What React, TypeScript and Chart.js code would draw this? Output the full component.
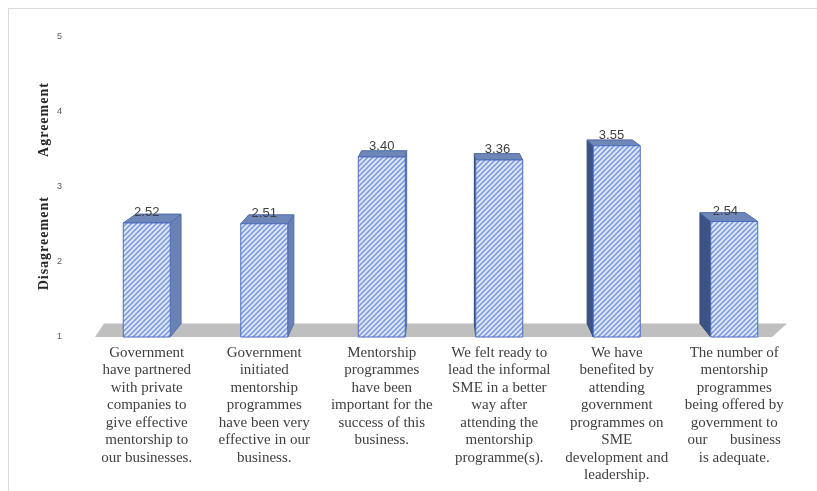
import { useEffect, useRef } from 'react';
import { Chart, registerables } from 'chart.js';

Chart.register(...registerables);

// Survey statements (one array of lines per column)
const CATEGORIES: string[][] = [
  ['Government', 'have partnered', 'with private', 'companies to', 'give effective', 'mentorship to', 'our businesses.'],
  ['Government', 'initiated', 'mentorship', 'programmes', 'have been very', 'effective in our', 'business.'],
  ['Mentorship', 'programmes', 'have been', 'important for the', 'success of this', 'business.'],
  ['We felt ready to', 'lead the informal', 'SME in a better', 'way after', 'attending the', 'mentorship', 'programme(s).'],
  ['We have', 'benefited by', 'attending', 'government', 'programmes on', 'SME', 'development and', 'leadership.'],
  ['The number of', 'mentorship', 'programmes', 'being offered by', 'government to', 'our      business', 'is adequate.'],
];

// Mean agreement scores
const VALUES: number[] = [2.52, 2.51, 3.4, 3.36, 3.55, 2.54];

// Likert scale range
const Y_MIN = 1;
const Y_MAX = 5;
const Y_STEP = 1;

// Side captions along the value axis, centred on a scale value
const AXIS_NOTES = [
  { text: 'Agreement', at: 3.9 },
  { text: 'Disagreement', at: 2.25 },
];

// perspective: vanishing point just above the plot, depth factor
const DEPTH = 0.04;

function makeHatch(ctx: CanvasRenderingContext2D): CanvasPattern | string {
  const s = 5;
  const c = document.createElement('canvas');
  c.width = s;
  c.height = s;
  const g = c.getContext('2d');
  if (!g) return '#a9bde8';
  g.fillStyle = '#dce5f8';
  g.fillRect(0, 0, s, s);
  g.strokeStyle = '#7896db';
  g.lineWidth = 1.5;
  g.beginPath();
  g.moveTo(-1, s + 1);
  g.lineTo(s + 1, -1);
  g.moveTo(-1, 1);
  g.lineTo(1, -1);
  g.moveTo(s - 1, s + 1);
  g.lineTo(s + 1, s - 1);
  g.stroke();
  return ctx.createPattern(c, 'repeat') || '#a9bde8';
}

const bars3d = {
  id: 'bars3d',
  beforeDraw(chart: any) {
    const { ctx, width, height } = chart;
    ctx.save();
    ctx.fillStyle = '#ffffff';
    ctx.fillRect(0, 0, width, height);
    ctx.strokeStyle = '#d9d9d9';
    ctx.lineWidth = 1;
    ctx.beginPath();
    ctx.moveTo(8, 8.5);
    ctx.lineTo(width, 8.5);
    ctx.moveTo(8.5, 8);
    ctx.lineTo(8.5, height);
    ctx.stroke();
    ctx.restore();
  },
  beforeDatasetsDraw(chart: any) {
    const { ctx, chartArea } = chart;
    const { left, right, bottom } = chartArea;
    const vpY = chartArea.top - 37;
    const back = bottom - (bottom - vpY) * DEPTH;
    ctx.save();
    ctx.fillStyle = '#bfbfbf';
    ctx.beginPath();
    ctx.moveTo(left + 7, bottom);
    ctx.lineTo(right - 21, bottom);
    ctx.lineTo(right - 6, back);
    ctx.lineTo(left + 16, back);
    ctx.closePath();
    ctx.fill();
    ctx.restore();
  },
  afterDatasetsDraw(chart: any) {
    const { ctx, chartArea } = chart;
    const yScale = chart.scales.y;
    const vpX = (chartArea.left + chartArea.right) / 2;
    const vpY = chartArea.top - 37;
    const P = (x: number, y: number) => [x + (vpX - x) * DEPTH, y + (vpY - y) * DEPTH];
    const hatch = makeHatch(ctx);
    const meta = chart.getDatasetMeta(0);
    const floorY = yScale.getPixelForValue(Y_MIN);
    ctx.save();
    meta.data.forEach((el: any, i: number) => {
      const { x, y, width } = el.getProps(['x', 'y', 'width'], true);
      const base = floorY;
      const x0 = x - width / 2;
      const x1 = x + width / 2;
      const poly = (pts: number[][], fill: string | CanvasPattern, stroke: string) => {
        ctx.beginPath();
        ctx.moveTo(pts[0][0], pts[0][1]);
        for (let k = 1; k < pts.length; k++) ctx.lineTo(pts[k][0], pts[k][1]);
        ctx.closePath();
        ctx.fillStyle = fill;
        ctx.fill();
        ctx.strokeStyle = stroke;
        ctx.lineWidth = 1;
        ctx.stroke();
      };
      // side face
      if (x < vpX) {
        poly([[x1, y], P(x1, y), P(x1, base), [x1, base]], '#6a81b5', '#536ca6');
      } else {
        poly([[x0, y], P(x0, y), P(x0, base), [x0, base]], '#3c5386', '#33497a');
      }
      // top face
      poly([[x0, y], [x1, y], P(x1, y), P(x0, y)], '#6f87b8', '#4f6aa8');
      // front face
      poly([[x0, y], [x1, y], [x1, base], [x0, base]], hatch, '#4a6cc4');

      // value label
      const shift = Math.min(0, (vpX - x) * 0.03);
      ctx.fillStyle = '#404040';
      ctx.font = '13px "Liberation Sans", Arial, sans-serif';
      ctx.textAlign = 'center';
      ctx.textBaseline = 'alphabetic';
      ctx.fillText(VALUES[i].toFixed(2), x + shift, y - 7);
    });
    ctx.restore();
  },
  afterDraw(chart: any) {
    const { ctx } = chart;
    const yScale = chart.scales.y;
    ctx.save();
    ctx.fillStyle = '#262626';
    ctx.font = 'bold 14px "Liberation Serif", "Times New Roman", serif';
    (ctx as any).letterSpacing = '1px';
    ctx.textAlign = 'center';
    ctx.textBaseline = 'middle';
    AXIS_NOTES.forEach((n) => {
      ctx.save();
      ctx.translate(44, yScale.getPixelForValue(n.at));
      ctx.rotate(-Math.PI / 2);
      ctx.fillText(n.text, 0, 0);
      ctx.restore();
    });
    ctx.restore();
  },
};

export default function App() {
  const ref = useRef<HTMLCanvasElement | null>(null);
  useEffect(() => {
    if (!ref.current) return;
    const chart = new Chart(ref.current, {
      type: 'bar',
      data: {
        labels: CATEGORIES as any,
        datasets: [
          {
            data: VALUES,
            base: Y_MIN,
            backgroundColor: 'rgba(0,0,0,0)',
            borderWidth: 0,
            barPercentage: 0.8,
            categoryPercentage: 0.5,
          } as any,
        ],
      },
      options: {
        responsive: false,
        animation: false,
        devicePixelRatio: 1,
        layout: { padding: { left: 0, top: 37, right: 24, bottom: 0 } },
        plugins: { legend: { display: false }, tooltip: { enabled: false } },
        scales: {
          x: {
            grid: { display: false, drawTicks: false },
            border: { display: false },
            ticks: {
              autoSkip: false,
              maxRotation: 0,
              minRotation: 0,
              padding: 7,
              color: '#404040',
              font: { family: '"Liberation Serif", "Times New Roman", serif', size: 15, lineHeight: 1.167 },
            },
            afterFit: (s: any) => {
              s.height = 154;
            },
          },
          y: {
            min: Y_MIN,
            max: Y_MAX,
            grid: { display: false, drawTicks: false },
            border: { display: false },
            ticks: {
              stepSize: Y_STEP,
              padding: 26,
              color: '#595959',
              font: { family: '"Liberation Sans", Arial, sans-serif', size: 9 },
            },
            afterFit: (s: any) => {
              s.width = 88;
            },
          },
        },
      },
      plugins: [bars3d],
    });
    return () => chart.destroy();
  }, []);
  return (
    <div style={{ position: 'fixed', left: 0, top: 0, width: 817, height: 491 }}>
      <canvas ref={ref} width={817} height={491} style={{ display: 'block' }} />
    </div>
  );
}
